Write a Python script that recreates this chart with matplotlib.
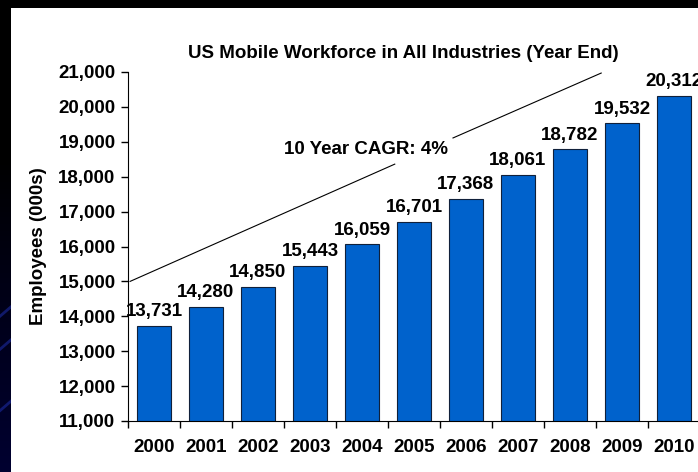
import matplotlib
matplotlib.use("Agg")
import matplotlib.pyplot as plt
import numpy as np

plt.rcParams['font.family'] = ['Liberation Sans', 'DejaVu Sans']

# data
years = ['2000', '2001', '2002', '2003', '2004', '2005',
         '2006', '2007', '2008', '2009', '2010']
employees = [13731, 14280, 14850, 15443, 16059, 16701,
             17368, 18061, 18782, 19532, 20312]
yticks = list(range(11000, 21001, 1000))

title = 'US Mobile Workforce in All Industries (Year End)'
cagr_text = '10 Year CAGR: 4%'

# trend arrow line (broken around the text), in category / value units
trend_a = [(-0.46, 15000), (4.63, 18360)]
trend_b = [(5.75, 19110), (8.60, 20970)]

FS = 13.5

fig = plt.figure(figsize=(6.98, 4.72), dpi=100)
fig.patch.set_facecolor('black')

# left strip of slide background: dark with blue streaks
bg = fig.add_axes([0, 0, 11 / 698, 1])
grad = np.linspace(0, 1, 200).reshape(-1, 1)
bg.imshow(grad, aspect='auto', extent=[0, 1, 0, 1], origin='upper',
          cmap=matplotlib.colors.LinearSegmentedColormap.from_list(
              'bgc', ['#000000', '#000000', '#00001a', '#000030']))
for y0 in [0.34, 0.27, 0.14]:
    bg.plot([0, 1], [y0 - 0.01, y0 + 0.01], color='#1c2aa0', lw=2, alpha=0.6)
bg.set_xlim(0, 1)
bg.set_ylim(0, 1)
bg.axis('off')

# white slide panel
panel = fig.add_axes([11 / 698, 0, 1 - 11 / 698, 464 / 472])
panel.set_facecolor('white')
panel.set_xticks([])
panel.set_yticks([])
for s in panel.spines.values():
    s.set_visible(False)

ax = fig.add_axes([128 / 698, 51 / 472, 572 / 698, 349 / 472])
ax.patch.set_alpha(0)

x = np.arange(len(years))
ax.bar(x, employees, width=0.67, color='#0062CC', edgecolor='#10203a',
       linewidth=0.8, zorder=2)

for xi, v in zip(x, employees):
    ax.annotate(f'{v:,}', (xi, v), xytext=(0, 4), textcoords='offset points',
                ha='center', va='bottom', fontsize=FS, fontweight='bold',
                annotation_clip=False)

ax.set_xlim(-0.5, len(years) - 0.5)
ax.set_ylim(11000, 21000)
ax.set_yticks(yticks)
ax.set_yticklabels([f'{t:,}' for t in yticks])

ax.set_xticks(np.arange(len(years) + 1) - 0.5)
ax.set_xticklabels([])
ax.set_xticks(x, minor=True)
ax.set_xticklabels(years, minor=True)
ax.tick_params(axis='x', which='major', direction='out', length=5, width=1)
ax.tick_params(axis='x', which='minor', length=0, pad=13)
ax.tick_params(axis='y', direction='out', length=5, width=1, pad=4)
for lab in ax.get_xticklabels(minor=True) + ax.get_yticklabels():
    lab.set_fontsize(FS)
    lab.set_fontweight('bold')

ax.spines['top'].set_visible(False)
ax.spines['right'].set_visible(False)

ax.set_ylabel('Employees (000s)', fontsize=FS, fontweight='bold', labelpad=8)

for seg in (trend_a, trend_b):
    ax.plot([seg[0][0], seg[1][0]], [seg[0][1], seg[1][1]], color='black',
            lw=0.8, clip_on=False, zorder=3)
ax.text(4.08, 18770, cagr_text, ha='center', va='center', fontsize=FS,
        fontweight='bold')

fig.text(403 / 698, 1 - 54 / 472, title, ha='center', va='center',
         fontsize=FS, fontweight='bold')

fig.savefig('out.png', dpi=100, facecolor=fig.get_facecolor())
